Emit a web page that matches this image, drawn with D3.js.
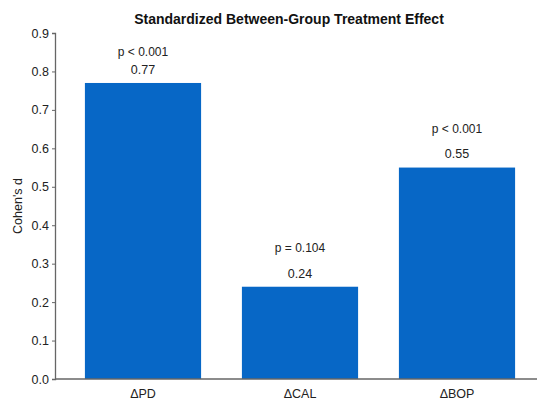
<!DOCTYPE html>
<html>
<head>
<meta charset="utf-8">
<script src="https://cdn.jsdelivr.net/npm/d3@7"></script>
<style>
  body { margin: 0; background: #fff; }
  text { font-family: "Liberation Sans", Arial, sans-serif; fill: #222; }
</style>
</head>
<body>
<div id="chart"></div>
<script>
// data
const categories = ["\u0394PD", "\u0394CAL", "\u0394BOP"];
const effects = [0.77, 0.24, 0.55];
const pLabels = ["p < 0.001", "p = 0.104", "p < 0.001"];
const yTicks = [0, 0.1, 0.2, 0.3, 0.4, 0.5, 0.6, 0.7, 0.8, 0.9];

const W = 550, H = 416;
const margin = {top: 33, right: 13, bottom: 37, left: 55};
const width = W - margin.left - margin.right,
      height = H - margin.top - margin.bottom;

const svg = d3.select("#chart").append("svg")
    .attr("width", W)
    .attr("height", H);

const g = svg.append("g")
    .attr("transform", "translate(" + margin.left + "," + margin.top + ")");

const x = d3.scaleBand()
    .domain(categories)
    .range([9.5, width - 1.5])
    .paddingInner(0.26)
    .paddingOuter(0.13);

const y = d3.scaleLinear()
    .domain([0, 0.9])
    .range([height, 0]);

// bars
g.selectAll(".bar")
    .data(effects)
  .enter().append("rect")
    .attr("class", "bar")
    .attr("x", (d, i) => x(categories[i]))
    .attr("y", d => y(d))
    .attr("width", x.bandwidth())
    .attr("height", d => height - y(d))
    .attr("fill", "#0767c6");

// value labels
g.selectAll(".val")
    .data(effects)
  .enter().append("text")
    .attr("class", "val")
    .attr("x", (d, i) => x(categories[i]) + x.bandwidth() / 2)
    .attr("y", d => y(d + 0.035))
    .attr("dy", "0.35em")
    .attr("text-anchor", "middle")
    .style("font-size", "12.5px")
    .text(d => d.toFixed(2));

// p-value labels (kept under the top of the axis)
g.selectAll(".pval")
    .data(effects)
  .enter().append("text")
    .attr("class", "pval")
    .attr("x", (d, i) => x(categories[i]) + x.bandwidth() / 2)
    .attr("y", d => y(Math.min(d + 0.1, 0.85)))
    .attr("dy", "0.35em")
    .attr("text-anchor", "middle")
    .style("font-size", "12px")
    .text((d, i) => pLabels[i]);

// y axis
const yAxis = g.append("g")
    .call(d3.axisLeft(y).tickValues(yTicks).tickFormat(d3.format(".1f")).tickSizeOuter(0).tickSize(3));
yAxis.select(".domain").attr("stroke", "#666").attr("stroke-width", 1.3);
yAxis.selectAll(".tick line").attr("stroke", "#666");
yAxis.selectAll(".tick text").style("font-size", "12.5px").attr("x", -6).attr("fill", "#333");

// x axis
const xAxis = g.append("g")
    .attr("transform", "translate(0," + height + ")")
    .call(d3.axisBottom(x).tickSize(0).tickSizeOuter(0));
xAxis.select(".domain").attr("d", "M0,0H" + (width)).attr("stroke", "#666").attr("stroke-width", 1.3);
xAxis.selectAll(".tick text").style("font-size", "12.5px").attr("dy", "1.25em").attr("fill", "#333");

// axis title
svg.append("text")
    .attr("transform", "translate(18," + (margin.top + height / 2) + ") rotate(-90)")
    .attr("text-anchor", "middle")
    .attr("dy", "0.35em")
    .style("font-size", "12.5px")
    .text("Cohen's d");

// chart title
svg.append("text")
    .attr("x", 289)
    .attr("y", 24)
    .attr("text-anchor", "middle")
    .style("font-size", "14px")
    .style("font-weight", "bold")
    .style("fill", "#111")
    .text("Standardized Between-Group Treatment Effect");
</script>
</body>
</html>
